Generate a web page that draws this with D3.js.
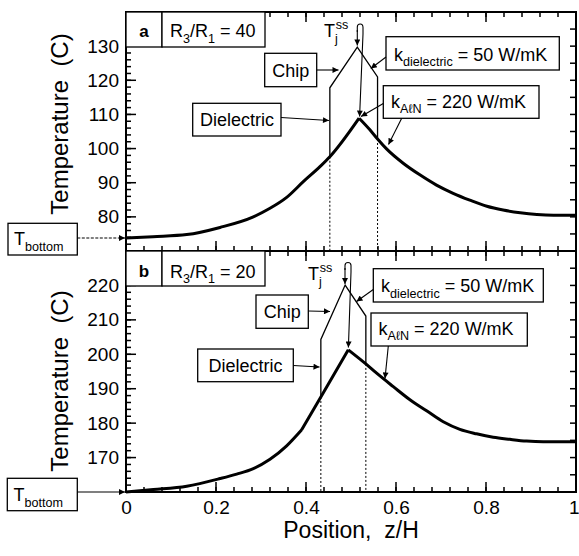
<!DOCTYPE html>
<html><head><meta charset="utf-8">
<script src="https://cdn.jsdelivr.net/npm/d3@7"></script>
<style>
body{margin:0;background:#fff}
svg{display:block}
text{font-family:"Liberation Sans",Arial,Helvetica,sans-serif;fill:#000;white-space:pre}
</style>
</head><body>
<svg id="c" width="579" height="556"></svg>
<script>
// ---- data ----
const zA = [0, 0.06, 0.135, 0.209, 0.283, 0.32, 0.357, 0.394, 0.431, 0.453, 0.518, 0.542, 0.559, 0.579, 0.616, 0.653, 0.69, 0.727, 0.764, 0.802, 0.838, 0.876, 0.913, 0.95, 1.0];
const tA = [73.8, 74.2, 74.8, 76.9, 80.0, 82.5, 85.7, 90.3, 94.7, 97.6, 108.9, 105.5, 102.8, 99.9, 95.7, 92.3, 89.3, 86.9, 84.9, 83.1, 82.0, 81.2, 80.7, 80.5, 80.5];
const kinksA = [0.518];
const chipZA = [0.453, 0.453, 0.514, 0.559, 0.559];
const chipTA = [97.6, 117.8, 129.7, 121.0, 102.8];

const zB = [0, 0.061, 0.135, 0.209, 0.246, 0.283, 0.32, 0.357, 0.39, 0.433, 0.494, 0.52, 0.533, 0.557, 0.594, 0.631, 0.668, 0.705, 0.742, 0.779, 0.816, 0.853, 0.89, 0.927, 1.0];
const tB = [160.0, 160.7, 161.7, 163.9, 165.2, 166.8, 169.5, 173.4, 178.0, 187.6, 201.3, 198.6, 197.2, 194.5, 190.6, 186.8, 183.6, 180.4, 178.2, 176.9, 175.9, 175.3, 174.8, 174.6, 174.6];
const kinksB = [0.39, 0.494];
const chipZB = [0.433, 0.433, 0.487, 0.533, 0.533];
const chipTB = [187.6, 204.3, 220.1, 211.1, 197.2];

const xTickVals = [0, 0.2, 0.4, 0.6, 0.8, 1];
const xTickLabels = ["0", "0.2", "0.4", "0.6", "0.8", "1"];
const yTicksA = [80, 90, 100, 110, 120, 130];
const yTicksB = [170, 180, 190, 200, 210, 220];
const domainA = [70, 140];
const domainB = [160, 230];
const ratioA = "40", ratioB = "20";
const kDiel = "50", kAlN = "220";

// ---- layout ----
const L = 126, R = 576, T = 12, MID = 251, B = 492;
const svg = d3.select("#c");
const x = d3.scaleLinear().domain([0, 1]).range([L, R]);
const yA = d3.scaleLinear().domain(domainA).range([MID, T]);
const yB = d3.scaleLinear().domain(domainB).range([B, MID]);

const defs = svg.append("defs");
defs.append("marker").attr("id", "ah").attr("viewBox", "0 0 10 10")
  .attr("refX", 10).attr("refY", 5).attr("markerWidth", 8).attr("markerHeight", 6)
  .attr("markerUnits", "userSpaceOnUse").attr("orient", "auto")
  .append("path").attr("d", "M0,0 L10,5 L0,10 z").attr("fill", "#000");

const minorX = d3.range(0, 26).map(i => i * 0.04);
function ticksX(yPos, dir, vals, len) {
  svg.append("g").selectAll("line").data(vals).join("line")
    .attr("x1", d => x(d)).attr("x2", d => x(d))
    .attr("y1", yPos).attr("y2", yPos + dir * len)
    .attr("stroke", "#000").attr("stroke-width", 1.5);
}
function ticksY(y, vals, len, side) {
  svg.append("g").selectAll("line").data(vals).join("line")
    .attr("y1", d => y(d)).attr("y2", d => y(d))
    .attr("x1", side === "L" ? L : R).attr("x2", side === "L" ? L + len : R - len)
    .attr("stroke", "#000").attr("stroke-width", 1.5);
}
[[T, 1], [MID, -1], [MID, 1], [B, -1]].forEach(([yy, dir]) => {
  ticksX(yy, dir, minorX, 5);
  ticksX(yy, dir, xTickVals, 10);
});
function panelTicks(y, dom) {
  ticksY(y, d3.range(dom[0], dom[1] + 0.01, 2), 5, "L");
  ticksY(y, d3.range(dom[0], dom[1] + 0.01, 10), 10, "L");
  ticksY(y, d3.range(dom[0], dom[1] + 0.01, 5), 6, "R");
}
panelTicks(yA, domainA);
panelTicks(yB, domainB);

// frame
svg.append("rect").attr("x", L).attr("y", T).attr("width", R - L).attr("height", B - T)
  .attr("fill", "none").attr("stroke", "#000").attr("stroke-width", 2);
svg.append("line").attr("x1", L).attr("x2", R).attr("y1", MID).attr("y2", MID)
  .attr("stroke", "#000").attr("stroke-width", 2);

// tick labels
const xAxis = d3.axisBottom(x).tickValues(xTickVals).tickSize(0).tickPadding(9)
  .tickFormat((d, i) => xTickLabels[i]);
const gx = svg.append("g").attr("transform", `translate(0,${B})`).call(xAxis);
gx.select(".domain").remove();
gx.selectAll("text").attr("font-size", 19).attr("font-family", null);
gx.selectAll(".tick").filter(d => d === 1).select("text").attr("text-anchor", "end").attr("x", 3);

function yLabels(y, vals) {
  const g = svg.append("g").attr("transform", `translate(${L},0)`)
    .call(d3.axisLeft(y).tickValues(vals).tickSize(0).tickPadding(7));
  g.select(".domain").remove();
  g.selectAll("text").attr("font-size", 19).attr("font-family", null);
}
yLabels(yA, yTicksA);
yLabels(yB, yTicksB);

// axis titles
svg.append("text").attr("transform", "translate(68,124) rotate(-90)")
  .attr("text-anchor", "middle").attr("font-size", 24).text("Temperature  (C)");
svg.append("text").attr("transform", "translate(68,381) rotate(-90)")
  .attr("text-anchor", "middle").attr("font-size", 24).text("Temperature  (C)");
svg.append("text").attr("x", 351).attr("y", 538).attr("text-anchor", "middle")
  .attr("font-size", 23).text("Position,  z/H");

// curves: smooth segments, sharp at kinks
function drawPanel(zs, ts, kinks, cz, ct, y, y0) {
  const lin = d3.line().x(d => x(d[0])).y(d => y(d[1]));
  const smooth = d3.line().x(d => x(d[0])).y(d => y(d[1])).curve(d3.curveMonotoneX);
  [[cz[0], ct[0]], [cz[4], ct[4]]].forEach(([zz, tt]) => {
    svg.append("line").attr("x1", x(zz)).attr("x2", x(zz)).attr("y1", y(tt)).attr("y2", y(y0))
      .attr("stroke", "#000").attr("stroke-width", 1).attr("stroke-dasharray", "2,2");
  });
  svg.append("path").datum(cz.map((d, i) => [d, ct[i]])).attr("d", lin)
    .attr("fill", "none").attr("stroke", "#000").attr("stroke-width", 1.3);
  const pts = zs.map((d, i) => [d, ts[i]]);
  const bounds = [0, ...kinks, 1];
  let d = "";
  for (let s = 0; s < bounds.length - 1; s++) {
    const seg = pts.filter(p => p[0] >= bounds[s] - 1e-9 && p[0] <= bounds[s + 1] + 1e-9);
    d += smooth(seg);
  }
  svg.append("path").attr("d", d)
    .attr("fill", "none").attr("stroke", "#000").attr("stroke-width", 3)
    .attr("stroke-linejoin", "miter").attr("stroke-linecap", "butt");
}
drawPanel(zA, tA, kinksA, chipZA, chipTA, yA, domainA[0]);
drawPanel(zB, tB, kinksB, chipZB, chipTB, yB, domainB[0]);

// annotation helpers
function box(x0, y0, x1, y1) {
  svg.append("rect").attr("x", x0).attr("y", y0).attr("width", x1 - x0).attr("height", y1 - y0)
    .attr("fill", "#fff").attr("stroke", "#000").attr("stroke-width", 1.3);
}
function rich(xp, yp, parts, size, anchor, weight) {
  const t = svg.append("text").attr("x", xp).attr("y", yp).attr("font-size", size)
    .attr("text-anchor", anchor || "start");
  if (weight) t.attr("font-weight", weight);
  let cur = 0;
  parts.forEach(p => {
    const off = p[1] === "sub" ? size * 0.32 : p[1] === "sup" ? -size * 0.42 : 0;
    const ts = t.append("tspan").text(p[0]).attr("dy", off - cur);
    if (p[1]) ts.attr("font-size", size * 0.7);
    if (p[2]) ts.attr("dx", p[2]);
    cur = off;
  });
}
function arrow(x1, y1, x2, y2, dash) {
  const l = svg.append("line").attr("x1", x1).attr("y1", y1).attr("x2", x2).attr("y2", y2)
    .attr("stroke", "#000").attr("stroke-width", 1.1).attr("marker-end", "url(#ah)");
  if (dash) l.attr("stroke-dasharray", dash);
}
function pathArrow(d) {
  svg.append("path").attr("d", d).attr("fill", "none").attr("stroke", "#000")
    .attr("stroke-width", 1.1).attr("marker-end", "url(#ah)");
}

// ---- panel a annotations ----
box(L, T, 162, 47); box(162, T, 265, 47);
rich(144, 36.5, [["a"]], 17, "middle", "bold");
rich(170, 37, [["R"], ["3", "sub"], ["/R"], ["1", "sub"], [" = " + ratioA]], 18);

box(264.7, 53.3, 316.7, 86.7);
rich(290.7, 76.5, [["Chip"]], 18, "middle");
arrow(316.7, 70, 338.5, 70);

box(192.7, 103.3, 281, 136);
rich(237, 126, [["Dielectric"]], 18, "middle");
arrow(281, 117.5, 329, 120.5);

rich(324, 37, [["T"], ["j", "sub"], ["ss", "sup", -2]], 18);
arrow(357.3, 30, 357.3, 45.5);
pathArrow("M357.3,32 L357.3,27 Q357.3,24 360.2,24 Q363,24 363,27.5 L363,34 L359.6,116.5");

box(386, 36.7, 559.3, 70);
rich(394, 60.5, [["k"], ["dielectric", "sub"], [" = " + kDiel + " W/mK"]], 18);
arrow(386, 57, 370.8, 68.5);

box(383.3, 85.7, 539, 118.3);
rich(391, 107.5, [["k"], ["A\u2113N", "sub"], [" = " + kAlN + " W/mK"]], 18);
arrow(383.3, 103.5, 361, 116.5);
arrow(401.7, 118.3, 388.5, 144.5);

box(8, 223.3, 77.3, 255);
rich(14, 245, [["T"], ["bottom", "sub"]], 18);
arrow(77.3, yA(tA[0]), L - 1, yA(tA[0]), "3,1.5");

// ---- panel b annotations ----
box(L, MID, 162, 286); box(162, MID, 265, 286);
rich(144, 277, [["b"]], 17, "middle", "bold");
rich(170, 277.5, [["R"], ["3", "sub"], ["/R"], ["1", "sub"], [" = " + ratioB]], 18);

box(256, 295, 308.3, 328.3);
rich(282.2, 318, [["Chip"]], 18, "middle");
arrow(308.3, 311, 330, 311.5);

box(197.7, 349, 293.3, 381.7);
rich(245.5, 372, [["Dielectric"]], 18, "middle");
arrow(293.3, 365.5, 319.5, 367);

rich(308, 280, [["T"], ["j", "sub"], ["ss", "sup", -2]], 18);
arrow(345, 268, 345, 284);
pathArrow("M345,270 L345,265.5 Q345,262.5 348,262.5 Q351,262.5 351,265.5 L351,272 L348.4,347.5");

box(373.3, 268.7, 543.3, 302);
rich(381, 292, [["k"], ["dielectric", "sub"], [" = " + kDiel + " W/mK"]], 18);
arrow(373.3, 289.5, 356.5, 301.5);

box(371, 313, 527.3, 346);
rich(378.5, 334.5, [["k"], ["A\u2113N", "sub"], [" = " + kAlN + " W/mK"]], 18);
arrow(388.3, 346, 385, 378.5);

box(7.3, 478.3, 77.3, 510.7);
rich(13.5, 501, [["T"], ["bottom", "sub"]], 18);
arrow(77.3, yB(tB[0]), L - 1, yB(tB[0]));
</script>
</body></html>
